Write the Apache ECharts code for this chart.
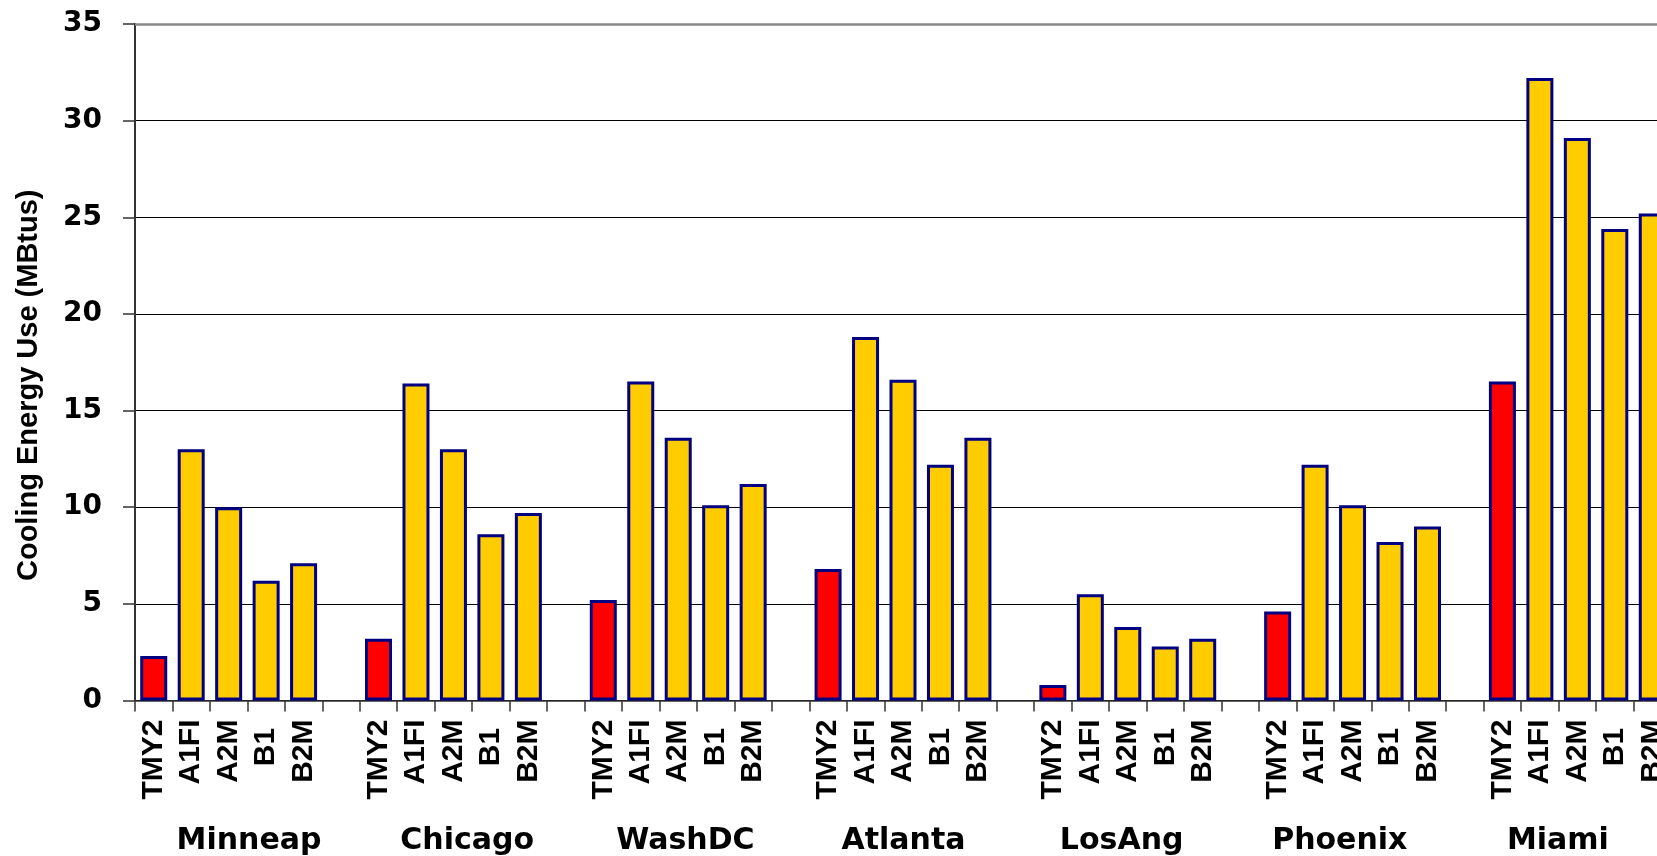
<!DOCTYPE html>
<html>
<head>
<meta charset="utf-8">
<title>Cooling Energy Use</title>
<script src="https://cdn.jsdelivr.net/npm/echarts@6/dist/echarts.min.js"></script>
<style>
  html, body { margin: 0; padding: 0; background: #fff; overflow: hidden; }
  #chart { width: 1700px; height: 856px; }
</style>
</head>
<body>
<div id="chart"></div>
<script>
// Cities and weather scenarios
const cities = ['Minneap', 'Chicago', 'WashDC', 'Atlanta', 'LosAng', 'Phoenix', 'Miami'];
const scenarios = ['TMY2', 'A1FI', 'A2M', 'B1 ', 'B2M'];

// Cooling energy use (MBtus), one array per city, in scenario order
const minneap = [2.3, 13.0, 10.0, 6.2, 7.1];
const chicago = [3.2, 16.4, 13.0, 8.6, 9.7];
const washDC  = [5.2, 16.5, 13.6, 10.1, 11.2];
const atlanta = [6.8, 18.8, 16.6, 12.2, 13.6];
const losAng  = [0.8, 5.5, 3.8, 2.8, 3.2];
const phoenix = [4.6, 12.2, 10.1, 8.2, 9.0];
const miami   = [16.5, 32.2, 29.1, 24.4, 25.2];

const yTicks = { min: 0, max: 35, step: 5 };

const cityValues = [minneap, chicago, washDC, atlanta, losAng, phoenix, miami];

// Flatten into one category axis: five bars per city, an empty slot between cities
const categories = [];
const barData = [];
cityValues.forEach((vals, ci) => {
  vals.forEach((v, si) => {
    categories.push(scenarios[si]);
    barData.push({
      value: v,
      itemStyle: { color: si === 0 ? '#FF0000' : '#FFCC00' }
    });
  });
  if (ci < cityValues.length - 1) {
    categories.push('');
    barData.push('-');
  }
});

const chart = echarts.init(document.getElementById('chart'), null, { renderer: 'canvas' });

const option = {
  backgroundColor: '#ffffff',
  animation: false,
  grid: [
    { left: 135, right: 29, top: 24, bottom: 155.5, containLabel: false },
    { left: 140, right: 33, top: 24, bottom: 155.5, containLabel: false }
  ],
  xAxis: [
    {
      type: 'category',
      gridIndex: 0,
      data: categories,
      boundaryGap: true,
      axisLine: { show: true, lineStyle: { color: '#333333', width: 1.5 } },
      axisTick: { show: true, interval: 0, length: 11, lineStyle: { color: '#333333', width: 1.5 } },
      axisLabel: {
        interval: 0,
        rotate: 90,
        margin: 19,
        color: '#000000',
        fontFamily: 'Liberation Sans, Arial, sans-serif',
        fontWeight: 'bold',
        fontSize: 30
      },
      splitLine: { show: false }
    },
    {
      type: 'category',
      gridIndex: 1,
      data: cities,
      boundaryGap: true,
      axisLine: { show: false },
      axisTick: { show: false },
      axisLabel: {
        interval: 0,
        margin: 154,
        color: '#000000',
        fontFamily: 'DejaVu Sans, sans-serif',
        fontWeight: 'bold',
        fontSize: 30
      },
      splitLine: { show: false }
    }
  ],
  yAxis: [
    {
      type: 'value',
      gridIndex: 0,
      min: yTicks.min,
      max: yTicks.max,
      interval: yTicks.step,
      name: 'Cooling Energy Use (MBtus)',
      nameLocation: 'middle',
      nameGap: 92,
      nameRotate: 90,
      nameTextStyle: {
        color: '#000000',
        fontFamily: 'Liberation Sans Narrow, Liberation Sans, Arial, sans-serif',
        fontWeight: 'bold',
        fontSize: 29,
        padding: [0, 46, 0, 0]
      },
      axisLine: { show: true, lineStyle: { color: '#333333', width: 2 } },
      axisTick: { show: true, inside: false, length: 12, lineStyle: { color: '#333333', width: 1.5 } },
      axisLabel: {
        margin: 33,
        color: '#000000',
        fontFamily: 'DejaVu Sans, sans-serif',
        fontWeight: 'bold',
        fontSize: 28
      },
      splitLine: { show: true, lineStyle: { color: '#000000', width: 1.2 } }
    },
    {
      type: 'value',
      gridIndex: 1,
      min: 0,
      max: 1,
      show: false
    }
  ],
  series: [
    {
      type: 'bar',
      xAxisIndex: 0,
      yAxisIndex: 0,
      data: barData,
      barWidth: 27,
      itemStyle: { borderColor: '#000080', borderWidth: 3 },
      markLine: {
        silent: true,
        symbol: 'none',
        label: { show: false },
        lineStyle: { color: '#888888', width: 2.5, type: 'solid' },
        data: [{ yAxis: yTicks.max }]
      }
    }
  ]
};

chart.setOption(option);
</script>
</body>
</html>
